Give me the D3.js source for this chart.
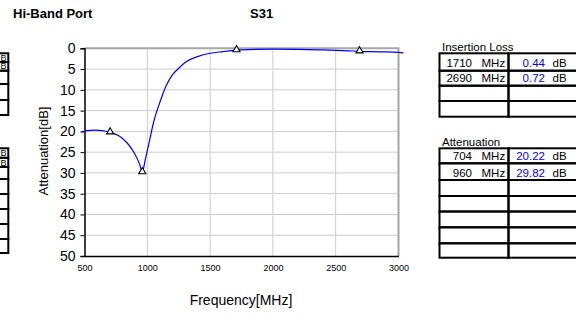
<!DOCTYPE html>
<html>
<head>
<meta charset="utf-8">
<script src="https://cdn.jsdelivr.net/npm/d3@7"></script>
<style>
  body { margin: 0; background: #fff; }
  svg { display: block; font-family: "Liberation Sans", Arial, sans-serif; }
</style>
</head>
<body>
<div id="chart"></div>
<script>
// curve (frequency MHz, attenuation dB)
const freq  = [475, 520, 580, 640, 704, 770, 840, 900, 940, 960, 985, 1010, 1050, 1100, 1150, 1200, 1250, 1300, 1400, 1500, 1600, 1710, 1850, 2000, 2200, 2400, 2600, 2690, 2850, 3000, 3040];
const atten = [20.2, 19.8, 19.7, 19.8, 20.22, 21.0, 22.8, 25.4, 28.0, 29.82, 26.6, 23.3, 17.8, 13.0, 9.0, 6.4, 4.8, 3.4, 2.0, 1.2, 0.8, 0.44, 0.25, 0.2, 0.25, 0.4, 0.6, 0.72, 0.85, 1.0, 1.1];

// markers
const markFreq = [704, 960, 1710, 2690];
const markVal  = [20.22, 29.82, 0.44, 0.72];

const xTicks = [500, 1000, 1500, 2000, 2500, 3000];
const yTicks = [0, 5, 10, 15, 20, 25, 30, 35, 40, 45, 50];

// tables
const ilFreq = ["1710", "2690"];
const ilVal  = ["0.44", "0.72"];
const atFreq = ["704", "960"];
const atVal  = ["20.22", "29.82"];

const width = 576, height = 316;
const svg = d3.select("#chart").append("svg")
    .attr("width", width)
    .attr("height", height);

const x = d3.scaleLinear().domain([500, 3000]).range([84.5, 398.5]);
const y = d3.scaleLinear().domain([0, 50]).range([48.3, 256]);

// titles
svg.append("text").attr("x", 13).attr("y", 18).attr("font-size", "13px")
    .attr("font-weight", "bold").text("Hi-Band Port");
svg.append("text").attr("x", 250).attr("y", 18).attr("font-size", "13px")
    .attr("font-weight", "bold").text("S31");

// grid
svg.append("g").selectAll("line")
    .data(yTicks.slice(1, -1))
    .join("line")
    .attr("x1", x(500)).attr("x2", x(3000))
    .attr("y1", d => y(d)).attr("y2", d => y(d))
    .attr("stroke", "#cccccc");
svg.append("g").selectAll("line")
    .data(xTicks.slice(1, -1))
    .join("line")
    .attr("x1", d => x(d)).attr("x2", d => x(d))
    .attr("y1", y(0)).attr("y2", y(50))
    .attr("stroke", "#cccccc");

// frame: top/right gray
svg.append("path")
    .attr("d", `M${x(500)},${y(0)}H${x(3000)}V${y(50)}`)
    .attr("fill", "none").attr("stroke", "#a6a6a6").attr("stroke-width", 2);

// y axis
const yAxis = svg.append("g")
    .attr("transform", `translate(${x(500)},0)`)
    .call(d3.axisLeft(y).tickValues(yTicks).tickSize(4).tickPadding(5));
yAxis.select(".domain").attr("stroke", "#000").attr("stroke-width", 1.5);
yAxis.selectAll(".tick line").attr("stroke", "#000");
yAxis.selectAll("text").attr("font-size", "14px").attr("fill", "#000")
    .attr("font-family", "Liberation Sans, Arial, sans-serif");

// x axis
const xAxis = svg.append("g")
    .attr("transform", `translate(0,${y(50)})`)
    .call(d3.axisBottom(x).tickValues(xTicks).tickFormat(d3.format("d")).tickSize(0).tickPadding(9));
xAxis.select(".domain").attr("stroke", "#000").attr("stroke-width", 1.5);
xAxis.selectAll("text").attr("font-size", "9px").attr("fill", "#000")
    .attr("font-family", "Liberation Sans, Arial, sans-serif");

// axis labels
svg.append("text").attr("x", 241).attr("y", 305).attr("font-size", "14px")
    .attr("text-anchor", "middle").text("Frequency[MHz]");
svg.append("text")
    .attr("transform", `translate(48,151) rotate(-90)`)
    .attr("font-size", "13px").attr("text-anchor", "middle")
    .text("Attenuation[dB]");

// curve
const pts = freq.map((f, i) => [f, atten[i]]);
svg.append("path")
    .datum(pts)
    .attr("d", d3.line().x(d => x(d[0])).y(d => y(d[1])).curve(d3.curveMonotoneX))
    .attr("fill", "none").attr("stroke", "#0000ff").attr("stroke-width", 1.2);

// markers
const tri = d3.symbol().type(d3.symbolTriangle).size(22);
svg.append("g").selectAll("path")
    .data(markFreq.map((f, i) => [f, markVal[i]]))
    .join("path")
    .attr("d", tri)
    .attr("transform", d => `translate(${x(d[0])},${y(d[1]) - 0.5})`)
    .attr("fill", "#fff").attr("stroke", "#000").attr("stroke-width", 1.1);

// tables
function drawTable(top, title, rows, fs, vs) {
    const g = svg.append("g");
    g.append("text").attr("x", 442).attr("y", top - 2.5)
        .attr("font-size", "11.5px").text(title);
    const x0 = 439.5, x1 = 508.5, x2 = 582;
    rows.forEach((r, i) => {
        g.append("rect").attr("x", x0).attr("y", r[0]).attr("width", x1 - x0).attr("height", r[1] - r[0])
            .attr("fill", "none").attr("stroke", "#000").attr("stroke-width", 2);
        g.append("rect").attr("x", x1).attr("y", r[0]).attr("width", x2 - x1).attr("height", r[1] - r[0])
            .attr("fill", "none").attr("stroke", "#000").attr("stroke-width", 2);
        if (i < fs.length) {
            const base = r[1] - 3.5;
            g.append("text").attr("x", 472).attr("y", base).attr("text-anchor", "end")
                .attr("font-size", "11.5px").text(fs[i]);
            g.append("text").attr("x", 481.5).attr("y", base)
                .attr("font-size", "11.5px").text("MHz");
            g.append("text").attr("x", 545).attr("y", base).attr("text-anchor", "end")
                .attr("font-size", "11.5px").attr("fill", "#0000ff").text(vs[i]);
            g.append("text").attr("x", 552.5).attr("y", base)
                .attr("font-size", "11.5px").text("dB");
        }
    });
}
const ilEdges = [53.3, 70.7, 85.7, 101, 116.7];
const atEdges = [148.3, 163.3, 180, 196, 211.5, 227.3, 243.3, 257.7];
drawTable(53.3, "Insertion Loss", d3.pairs(ilEdges), ilFreq, ilVal);
drawTable(148.3, "Attenuation", d3.pairs(atEdges), atFreq, atVal);

// cut-off tables of the neighbouring chart at the left edge (only the "B" of "dB" shows)
function drawStub(edges, nText) {
    const g = svg.append("g");
    d3.pairs(edges).forEach((r, i) => {
        g.append("rect").attr("x", -40).attr("y", r[0]).attr("width", 48.3).attr("height", r[1] - r[0])
            .attr("fill", "none").attr("stroke", "#000").attr("stroke-width", 2);
        if (i < nText) {
            g.append("text").attr("x", 0.5).attr("y", r[1] - 1.5)
                .attr("font-size", "9px").text("B");
        }
    });
}
drawStub([53.3, 62, 70.7, 84, 100, 115], 2);
drawStub([148.3, 157.8, 167, 179, 194, 209, 224, 239, 253], 2);
</script>
</body>
</html>
